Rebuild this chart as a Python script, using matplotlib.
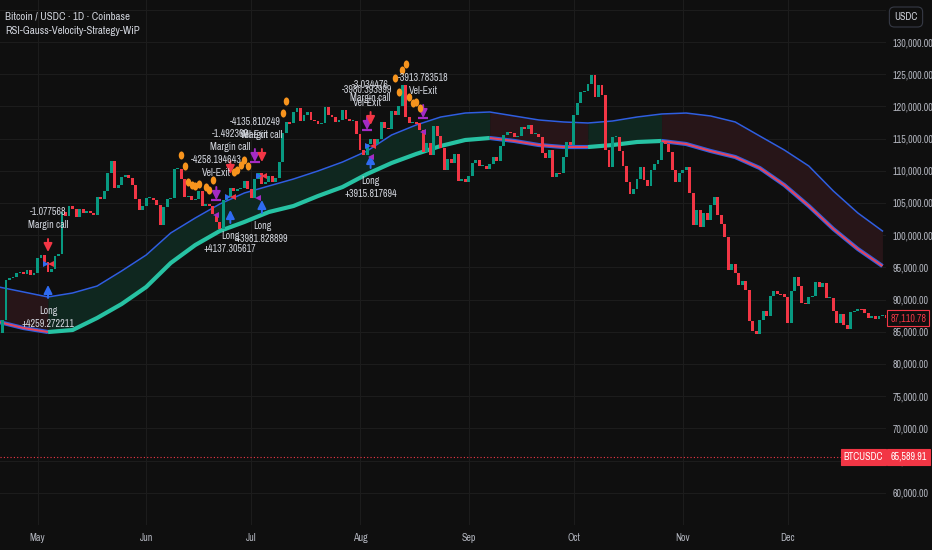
'''
BTC / USDC daily chart with the RSI-Gauss-Velocity strategy overlay
'''
import numpy as np
import pandas as pd
import matplotlib.pyplot as plt
import matplotlib.dates as mdates
from matplotlib import font_manager as fm
from matplotlib.markers import MarkerStyle
from matplotlib.transforms import Affine2D, offset_copy
from matplotlib.ticker import FuncFormatter

# TradingView text is quite narrow, take a condensed face if there is one
names = {f.name for f in fm.fontManager.ttflist}
FONT = next((f for f in ['Archivo Narrow', 'Asap Condensed', 'Barlow Semi Condensed']
             if f in names), 'Liberation Sans')
plt.rcParams['font.family'] = [FONT, 'DejaVu Sans']

# daily closes, 20 Apr .. 29 Dec 2025
apr_close = [84800, 86900, 93000, 93400, 93500, 94100, 94300, 94000, 94600, 93800, 94200]
may_close = [96500, 96900, 95900, 94300, 94700, 96800, 97000, 103600, 103000, 104600,
             104100, 102800, 104100, 103500, 103700, 103500, 103200, 106000, 105600, 106800,
             109600, 111500, 107300, 107800, 109000, 109400, 108900, 107800, 105600, 103900,
             104600]
jun_close = [105700, 105800, 105400, 104700, 101600, 104400, 105600, 105800, 110300, 110300,
             108700, 105900, 106100, 105400, 105600, 106800, 104600, 104900, 104600, 103300,
             102100, 100900, 105500, 106000, 107400, 106900, 107100, 107300, 108400, 107100]
jul_close = [105700, 108800, 109600, 108000, 108200, 109200, 108200, 108900, 111300, 115900,
             117500, 117400, 119100, 119800, 117700, 118600, 119200, 117900, 117800, 117300,
             117400, 119900, 118600, 118300, 117600, 117900, 119400, 118000, 117800, 117800,
             115700]
aug_close = [113300, 112500, 114200, 115000, 114100, 115000, 117500, 116700, 116500, 119300,
             118700, 120100, 123300, 118300, 117400, 117500, 117400, 116300, 112900, 114300,
             112500, 116900, 115400, 113500, 110100, 111800, 111200, 112600, 108400, 108800,
             108200]
sep_close = [109200, 111200, 111700, 110700, 110700, 110200, 111100, 112100, 111500, 113900,
             115500, 116100, 115900, 115300, 115400, 116800, 116500, 117100, 115700, 115700,
             115300, 112700, 112000, 113300, 109000, 109700, 109600, 112100, 114400, 114000]
oct_close = [118600, 120600, 122300, 122400, 123500, 124800, 121500, 123300, 121700, 113200,
             110600, 115200, 115300, 113000, 110700, 108200, 106400, 107200, 108700, 110600,
             108500, 107600, 110100, 111000, 111600, 114500, 114100, 112900, 110100, 108300,
             109600]
nov_close = [110100, 110600, 106500, 101600, 103900, 101300, 103400, 102300, 104700, 106000,
             103100, 101700, 99700, 94600, 95600, 94200, 92200, 92900, 91500, 86600,
             85100, 84700, 86800, 88300, 87400, 90500, 91300, 90900, 90800, 90400]
dec_close = [86300, 91300, 93500, 92100, 89400, 89300, 90400, 90600, 92700, 92000,
             92500, 90300, 90300, 88200, 86400, 87800, 86100, 85500, 88100, 88300,
             88600, 88500, 87900, 87200, 87400, 87000, 87500, 87600, 87110.78]
first_open = 84300

# Gaussian band, sampled weekly from 20 Apr
band_upper = [91950, 91180, 90400, 91020, 92100, 94440, 96920, 100340, 102670, 104840,
              106550, 107640, 108720, 109970, 111360, 113070, 115560, 117110, 118350, 118970,
              119130, 118510, 117890, 117580, 117420, 117730, 118350, 118820, 118970, 118510,
              117580, 115400, 113230, 110740, 106860, 103440, 100650]
band_lower = [86520, 85580, 84960, 85270, 87140, 89310, 91950, 95680, 98470, 100650,
              102050, 103600, 104530, 106080, 107480, 109500, 111210, 112610, 113850, 114780,
              115090, 114630, 114000, 113690, 113690, 114000, 114470, 114630, 114160, 113070,
              112140, 110430, 107790, 104530, 100960, 97850, 95210]
band_bull = [0, 0] + [1] * 18 + [0] * 4 + [1] * 3 + [0] * 10

# RSI dots
dot_dates = ['2025-06-11', '2025-06-12', '2025-06-13', '2025-06-14', '2025-06-15',
             '2025-06-16', '2025-06-18', '2025-06-19', '2025-06-20', '2025-06-26',
             '2025-06-27', '2025-06-28', '2025-06-29', '2025-06-30', '2025-07-10',
             '2025-07-11', '2025-08-11', '2025-08-12', '2025-08-13', '2025-08-14',
             '2025-08-15', '2025-08-16', '2025-08-17', '2025-08-18']
dot_price = [112450, 110740, 108260, 107790, 107640, 107950, 107480, 107020, 108570, 109810,
             110120, 110900, 111670, 110740, 118970, 120840, 124410, 122240, 125650, 126580,
             121460, 120530, 120680, 119750]

# strategy entries / exits
long_dates = ['2025-05-04', '2025-06-25', '2025-07-04', '2025-08-04']
long_price = [92262, 103910, 105463, 112451]
long_pnl = ['+4259.272211', '+4137.305617', '+3981.828899', '+3915.817694']

exit_dates = ['2025-05-04', '2025-06-21', '2025-06-25', '2025-07-02', '2025-07-04',
              '2025-08-03', '2025-08-04', '2025-08-19']
exit_price = [97387, 105463, 109500, 111364, 111364, 116334, 117110, 118197]
exit_kind = ['Margin call', 'Vel-Exit', 'Margin call', 'Vel-Exit', 'Margin call',
             'Vel-Exit', 'Margin call', 'Vel-Exit']
exit_pnl = ['-1.077568', '-4258.194643', '-1.492360', '-4135.810249', '',
            '-3980.393999', '-3.034476', '-3913.783518']

pair_dates = ['2025-05-04', '2025-06-25', '2025-07-04', '2025-08-04']
pair_price = [95523, 105928, 109190, 113849]
vel_dates = ['2025-06-21', '2025-07-03', '2025-08-04', '2025-08-19']
vel_price = [103133, 105773, 112141, 116023]

alert_price = 65589.91

BG = '#0f0f0f'
GRID = '#1c1c1c'
TXT = '#d1d4dc'
GREEN = '#089981'
RED = '#f23645'
TEAL = '#27c2a3'
BLUE = '#2f5ee0'
PURPLE = '#a42bc4'
ORANGE = '#f7941d'
FS = 7.2 if FONT != 'Liberation Sans' else 6.4

W, H = 932, 550
fig = plt.figure(figsize=(W / 100, H / 100), dpi=100, facecolor=BG)
ax = fig.add_axes([0, 25 / H, 886 / W, 525 / H], facecolor=BG)

# candles
closes = np.array(apr_close + may_close + jun_close + jul_close + aug_close
                  + sep_close + oct_close + nov_close + dec_close, dtype=float)
x = mdates.date2num(pd.date_range('2025-04-20', periods=len(closes), freq='D'))
opens = np.r_[first_open, closes[:-1]]
up = closes >= opens
body = closes - opens
body = np.where(np.abs(body) < 160, np.where(up, 160, -160), body)
ax.bar(x, body, bottom=opens, width=0.82, color=np.where(up, GREEN, RED),
       linewidth=0, zorder=4)

# band
bx = mdates.date2num(pd.date_range('2025-04-20', periods=len(band_upper), freq='7D'))
bu = np.array(band_upper)
bl = np.array(band_lower)
trend = np.array(band_bull)
n = len(trend)
starts = [0] + [i for i in range(1, n) if trend[i] != trend[i - 1]]
ends = starts[1:] + [n - 1]
for s, e in zip(starts, ends):
    seg = slice(s, e + 1)
    if trend[s]:
        ax.fill_between(bx[seg], bl[seg], bu[seg], color='#0f271f', lw=0, zorder=1)
        ax.plot(bx[seg], bl[seg], color=TEAL, lw=3, zorder=3, solid_capstyle='butt')
    else:
        ax.fill_between(bx[seg], bl[seg], bu[seg], color='#271518', lw=0, zorder=1)
        ax.plot(bx[seg], bl[seg], color=BLUE, lw=3, zorder=3, solid_capstyle='butt')
        ax.plot(bx[seg], bl[seg], color='#e8455a', lw=1.4, zorder=3, solid_capstyle='butt')
ax.plot(bx, bu, color=BLUE, lw=1.1, zorder=3)

PX = 0.72  # points per pixel
lab = dict(ha='center', va='center', color=TXT, fontsize=FS, zorder=8,
           textcoords='offset points', annotation_clip=False)

# long entries
for d, p, t in zip(long_dates, long_price, long_pnl):
    xd = mdates.datestr2num(d)
    ax.annotate('', xy=(xd, p), xytext=(0, -13 * PX), textcoords='offset points',
                arrowprops=dict(arrowstyle='-|>,head_length=0.5,head_width=0.25',
                                color='#2f6bf0', lw=1.4, shrinkA=0, shrinkB=0), zorder=7)
    ax.annotate('Long', xy=(xd, p), xytext=(0, -26 * PX), **lab)
    ax.annotate(t, xy=(xd, p), xytext=(0, -39 * PX), **lab)

# exits
for d, p, k, t in zip(exit_dates, exit_price, exit_kind, exit_pnl):
    xd = mdates.datestr2num(d)
    c = RED if k == 'Margin call' else PURPLE
    ax.annotate('', xy=(xd, p), xytext=(0, 13 * PX), textcoords='offset points',
                arrowprops=dict(arrowstyle='-|>,head_length=0.5,head_width=0.25',
                                color=c, lw=1.4, shrinkA=0, shrinkB=0), zorder=7)
    if k == 'Vel-Exit':
        ax.plot([xd], [p], marker='_', ms=7, mew=1.6, color=c, zorder=7)
    ax.annotate(k, xy=(xd, p), xytext=(0, 27 * PX), **lab)
    if t:
        ax.annotate(t, xy=(xd, p), xytext=(0, 40 * PX), **lab)

# RSI dots (above the arrows)
ell = MarkerStyle('o', transform=Affine2D().scale(0.68, 1.0))
ax.scatter(mdates.datestr2num(dot_dates), dot_price, s=34, marker=ell,
           color=ORANGE, linewidths=0, zorder=7.5)

# order markers
left = offset_copy(ax.transData, fig=fig, x=-2.5, y=0, units='dots')
right = offset_copy(ax.transData, fig=fig, x=2.5, y=0, units='dots')
px_ = mdates.datestr2num(pair_dates)
ax.plot(px_, pair_price, ls='none', marker='>', ms=4.5, color='#2f6bf0', mew=0,
        transform=left, zorder=7)
ax.plot(px_, pair_price, ls='none', marker='<', ms=4.5, color=RED, mew=0,
        transform=right, zorder=7)
ax.plot(mdates.datestr2num(vel_dates), vel_price, ls='none', marker='<', ms=4.5,
        color=PURPLE, mew=0, zorder=7)

# alert line
ax.axhline(alert_price, color=RED, lw=0.8, ls=(0, (1, 2)), zorder=2)

# axes
x0 = mdates.datestr2num('2025-05-01')
ax.set_xlim(x0 - 37.5 / 3.506, x0 + (886 - 37.5) / 3.506)
ax.set_ylim(54990, 136523)
ax.yaxis.tick_right()
ax.set_yticks(np.arange(55000, 140000, 5000))
ax.yaxis.set_major_formatter(FuncFormatter(
    lambda v, pos: '' if v < 60000 or v > 130000 else f'{v:,.2f}'))
ax.xaxis.set_major_locator(mdates.MonthLocator())
ax.xaxis.set_major_formatter(mdates.DateFormatter('%b'))
ax.tick_params(axis='y', length=0, pad=5, labelsize=FS, labelcolor='#b2b5be')
ax.tick_params(axis='x', length=0, pad=6, labelsize=FS, labelcolor='#b2b5be')
ax.grid(True, color=GRID, lw=0.8)
ax.set_axisbelow(True)
for sp in ax.spines.values():
    sp.set_visible(False)

# price tags
ax.annotate(f'{closes[-1]:,.2f}', xy=(1, closes[-1]), xycoords=('axes fraction', 'data'),
            xytext=(3, 0), textcoords='offset points', ha='left', va='center',
            color=RED, fontsize=FS, annotation_clip=False, zorder=10,
            bbox=dict(boxstyle='square,pad=0.3', fc=BG, ec=RED, lw=0.8))
ax.annotate('BTCUSDC', xy=(1, alert_price), xycoords=('axes fraction', 'data'),
            xytext=(-2, 0), textcoords='offset points', ha='right', va='center',
            color='white', fontsize=FS, annotation_clip=False, zorder=10,
            bbox=dict(boxstyle='square,pad=0.3', fc=RED, ec=RED, lw=0.8))
ax.annotate(f'{alert_price:,.2f}', xy=(1, alert_price), xycoords=('axes fraction', 'data'),
            xytext=(3, 0), textcoords='offset points', ha='left', va='center',
            color='white', fontsize=FS, annotation_clip=False, zorder=10,
            bbox=dict(boxstyle='square,pad=0.3', fc=RED, ec=RED, lw=0.8))

fig.text(906 / W, 1 - 17 / H, 'USDC', ha='center', va='center', color=TXT, fontsize=FS,
         bbox=dict(boxstyle='round,pad=0.5', fc=BG, ec='#363a45', lw=0.8))
fig.text(5 / W, 1 - 16 / H, 'Bitcoin / USDC · 1D · Coinbase', va='center',
         color=TXT, fontsize=FS + 0.6)
fig.text(5 / W, 1 - 31 / H, 'RSI-Gauss-Velocity-Strategy-WiP', va='center',
         color=TXT, fontsize=FS + 0.6)

fig.savefig('out.png', dpi=100, facecolor=BG)
